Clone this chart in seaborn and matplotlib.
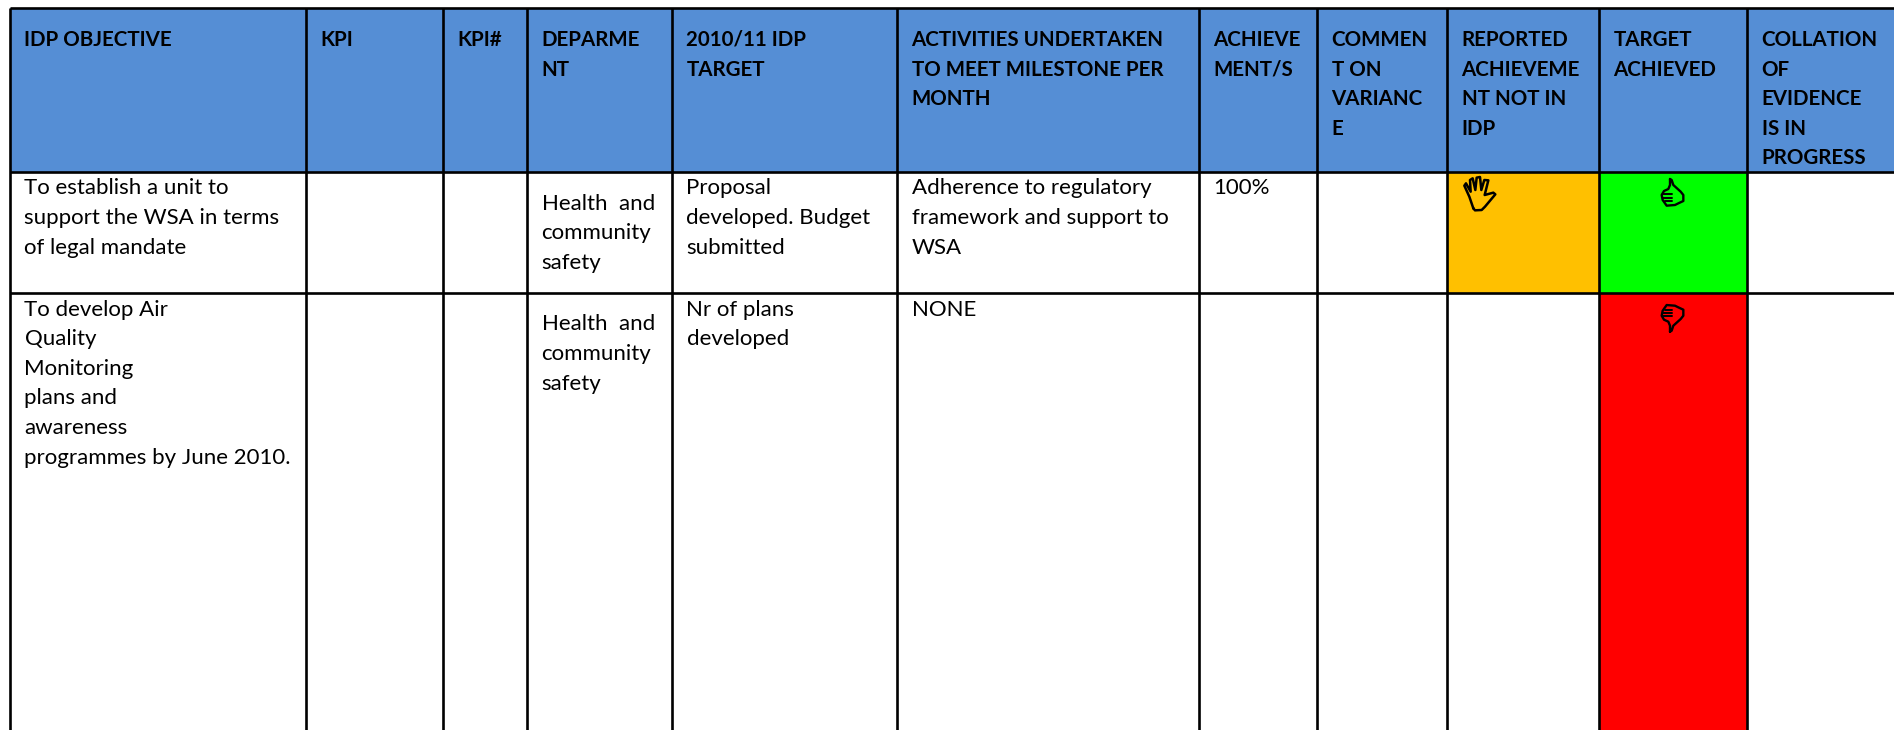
import numpy as np
import seaborn as sns
import matplotlib.pyplot as plt
from matplotlib.colors import ListedColormap

# table content
headers = [
    ['IDP OBJECTIVE'],
    ['KPI'],
    ['KPI#'],
    ['DEPARME', 'NT'],
    ['2010/11 IDP', 'TARGET'],
    ['ACTIVITIES UNDERTAKEN', 'TO MEET MILESTONE PER', 'MONTH'],
    ['ACHIEVE', 'MENT/S'],
    ['COMMEN', 'T ON', 'VARIANC', 'E'],
    ['REPORTED', 'ACHIEVEME', 'NT NOT IN', 'IDP'],
    ['TARGET', 'ACHIEVED'],
    ['COLLATION', 'OF', 'EVIDENCE', 'IS IN', 'PROGRESS'],
]
row1 = [
    ['To establish a unit to', 'support the WSA in terms', 'of legal mandate'],
    [],
    [],
    ['Health  and', 'community', 'safety'],
    ['Proposal', 'developed. Budget', 'submitted'],
    ['Adherence to regulatory', 'framework and support to', 'WSA'],
    ['100%'],
    [],
    [],
    [],
    [],
]
row2 = [
    ['To develop Air', 'Quality', 'Monitoring', 'plans and', 'awareness', 'programmes by June 2010.'],
    [],
    [],
    ['Health  and', 'community', 'safety'],
    ['Nr of plans', 'developed'],
    ['NONE'],
    [],
    [],
    [],
    [],
    [],
]

# cell status: 0 none, 1 header, 2 amber, 3 green, 4 red
status_header = [1] * 11
status_row1 = [0, 0, 0, 0, 0, 0, 0, 0, 2, 3, 0]
status_row2 = [0, 0, 0, 0, 0, 0, 0, 0, 0, 4, 0]

colors = ['#FFFFFF', '#558ED5', '#FFC000', '#00FF00', '#FF0000']

# column and row sizes in pixels, first entry is the margin
col_widths = [10, 296, 137, 84, 145, 225, 302, 118, 130, 152, 148, 147]
row_heights = [8, 164, 121, 437]

sns.set_theme(style='white')
plt.rcParams['font.family'] = ['Lato', 'DejaVu Sans']

status = np.array([status_header, status_row1, status_row2])
status = np.pad(status, ((1, 0), (1, 0)))
grid = np.repeat(np.repeat(status, row_heights, axis=0), col_widths, axis=1)

fig = plt.figure(figsize=(18.94, 7.3), dpi=100)
ax = fig.add_axes([0, 0, 1, 1])
sns.heatmap(grid, ax=ax, cmap=ListedColormap(colors), vmin=0, vmax=4, cbar=False,
            xticklabels=False, yticklabels=False)

col_edges = np.cumsum(col_widths)
row_edges = np.cumsum(row_heights)
ax.vlines(col_edges[:-1], row_edges[0], 730, color='black', lw=1.9)
ax.hlines(row_edges[:-1], col_edges[0], 1894, color='black', lw=1.9)


def put_lines(lines, x, y, **kw):
    for k, line in enumerate(lines):
        ax.text(x, y + k * 29.6, line, va='center', ha='left', color='black', **kw)


for i in range(11):
    x = col_edges[i] + 14.5
    put_lines(headers[i], x, 40, fontsize=14.8, fontweight='bold')
    offset = 15 if i == 3 else 0   # department column sits a bit lower
    put_lines(row1[i], x, 188.5 + offset, fontsize=16)
    put_lines(row2[i], x, 309.5 + offset, fontsize=16)

# hand and thumb icons
hand_x = np.array([100, 88, 73, 78, 92, 90, 98, 106, 110, 120, 124, 133, 145, 134, 160, 166, 135, 125, 105, 100])
hand_y = np.array([130, 95, 62, 55, 80, 45, 40, 75, 38, 36, 75, 45, 46, 90, 83, 88, 125, 135, 136, 130])
ax.plot(1440 + hand_x / 3, 165 + hand_y / 3, color='black', lw=1.8)

thumb_x = np.array([690, 695, 700, 722, 730, 730, 715, 705, 680, 668, 665, 672, 685, 690, 690])
thumb_y = np.array([42, 45, 60, 80, 90, 108, 115, 120, 122, 105, 90, 78, 72, 60, 42])
finger_x = np.array([[670, 695], [670, 697], [675, 697]])
finger_y = np.array([[88, 88], [98, 98], [108, 108]])
ax.plot(1440 + thumb_x / 3, 165 + thumb_y / 3, color='black', lw=1.7)
ax.plot(1440 + thumb_x / 3, 510.7 - (165 + thumb_y / 3), color='black', lw=1.7)
for fx, fy in zip(finger_x, finger_y):
    ax.plot(1440 + fx / 3, 165 + fy / 3, color='black', lw=1.4)
    ax.plot(1440 + fx / 3, 510.7 - (165 + fy / 3), color='black', lw=1.4)

ax.set_xlim(0, 1894)
ax.set_ylim(730, 0)
fig.savefig('out.png', dpi=100)
